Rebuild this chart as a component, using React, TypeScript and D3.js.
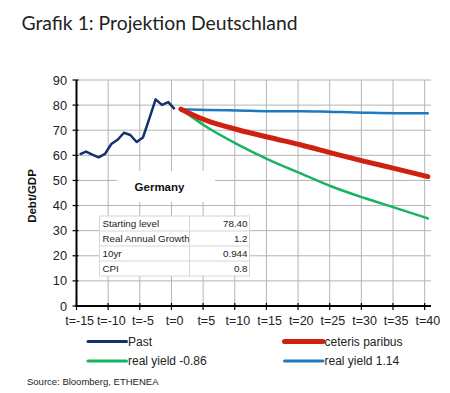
import React from 'react';
import * as d3 from 'd3';

// periods on the category axis (t=-15 .. t=40)
const periods = d3.range(-15, 41);
const labelPeriods = [-15, -10, -5, 0, 5, 10, 15, 20, 25, 30, 35, 40];
const yTicks = [0, 10, 20, 30, 40, 50, 60, 70, 80, 90];

// history
const pastT = d3.range(-15, 1);
const pastDebt = [60.4, 61.5, 60.3, 59.2, 60.6, 64.5, 66.2, 69.0, 68.1, 65.3, 67.1, 74.6, 82.3, 80.1, 81.2, 78.4];

// projections
const projT = [1, 5, 10, 15, 20, 25, 30, 35, 40];
const ceterisParibus = [78.4, 73.9, 70.2, 67.1, 64.1, 60.8, 57.6, 54.6, 51.5];
const yieldNeg = [78.4, 71.4, 64.3, 58.1, 52.7, 47.4, 43.0, 39.0, 34.9];
const yieldPos = [78.3, 78.1, 77.9, 77.6, 77.6, 77.3, 77.0, 76.8, 76.8];

// inputs table
const tableLabels = ['Starting level', 'Real Annual Growth', '10yr', 'CPI'];
const tableValues = ['78.40', '1.2', '0.944', '0.8'];

const COLORS = {
  past: '#14306e',
  ceteris: '#d0200f',
  neg: '#17b35f',
  pos: '#1b7ac4',
  grid: '#b4b4b4',
};

const legendItems = [
  { name: 'Past', color: COLORS.past, width: 3, col: 0, row: 0 },
  { name: 'ceteris paribus', color: COLORS.ceteris, width: 5, col: 1, row: 0 },
  { name: 'real yield -0.86', color: COLORS.neg, width: 3, col: 0, row: 1 },
  { name: 'real yield 1.14', color: COLORS.pos, width: 3, col: 1, row: 1 },
];

const FONT = '"Liberation Sans", Arial, sans-serif';

export default function App() {
  const width = 450;
  const height = 393;
  const plot = { left: 76.5, right: 431, top: 80, bottom: 306 };

  const x = d3
    .scaleBand<number>()
    .domain(periods)
    .range([plot.left, plot.right])
    .paddingInner(0)
    .paddingOuter(0);
  const bw = x.bandwidth();
  const cx = (t: number) => (x(t) as number) + bw / 2;
  const boundary = (t: number) => (x(t) as number);

  const y = d3.scaleLinear().domain([0, 90]).range([plot.bottom, plot.top]);

  // history drawn as straight segments, projections smoothed
  const pastLine = d3
    .line<[number, number]>()
    .x((d) => cx(d[0]))
    .y((d) => y(d[1]));
  const projLine = d3
    .line<[number, number]>()
    .x((d) => cx(d[0]))
    .y((d) => y(d[1]))
    .curve(d3.curveMonotoneX);

  const zip = (ts: number[], vs: number[]) => ts.map((t, i) => [t, vs[i]] as [number, number]);

  // table geometry
  const tbl = { x: 99.5, y: 216, w: 150, rowH: 15, split: 189.5 };

  return (
    <svg
      width={width}
      height={height}
      style={{ position: 'absolute', left: 0, top: 0, background: '#fff' }}
      fontFamily={FONT}
    >
      <rect width={width} height={height} fill="#fff" />

      {/* title */}
      <text x={21.5} y={30} fontFamily='Lato, "Open Sans", sans-serif' fontSize={19.5} fill="#222"
        textLength={276} lengthAdjust="spacingAndGlyphs">
        Grafik 1: Projektion Deutschland
      </text>

      {/* horizontal grid */}
      {yTicks.filter((v) => v > 0).map((v) => (
        <line key={'hg' + v} x1={plot.left} x2={plot.right} y1={y(v)} y2={y(v)} stroke={COLORS.grid} strokeWidth={1} />
      ))}
      {/* vertical grid */}
      {labelPeriods.filter((t) => t > -15).map((t) => (
        <line key={'vg' + t} x1={boundary(t)} x2={boundary(t)} y1={plot.top} y2={plot.bottom} stroke={COLORS.grid} strokeWidth={1} />
      ))}

      {/* Germany label box */}
      <rect x={117} y={171} width={98} height={31} fill="#fff" />
      <text x={159.5} y={190.5} textAnchor="middle" fontWeight="bold" fontSize={11.5} fill="#111">
        Germany
      </text>

      {/* inputs table */}
      <rect x={tbl.x} y={tbl.y} width={tbl.w} height={tbl.rowH * tableLabels.length} fill="#fff" stroke="#d6d6d6" />
      {tableLabels.map((lab, i) => (
        <g key={lab}>
          {i > 0 && (
            <line x1={tbl.x} x2={tbl.x + tbl.w} y1={tbl.y + i * tbl.rowH} y2={tbl.y + i * tbl.rowH} stroke="#d6d6d6" />
          )}
          <text x={tbl.x + 3} y={tbl.y + i * tbl.rowH + 11} fontSize={9.8} fill="#222">{lab}</text>
          <text x={tbl.x + tbl.w - 2} y={tbl.y + i * tbl.rowH + 11} fontSize={9.8} fill="#222" textAnchor="end">
            {tableValues[i]}
          </text>
        </g>
      ))}
      <line x1={tbl.split} x2={tbl.split} y1={tbl.y} y2={tbl.y + tbl.rowH * tableLabels.length} stroke="#d6d6d6" />

      {/* series */}
      <path d={pastLine(zip(pastT, pastDebt)) || ''} fill="none" stroke={COLORS.past} strokeWidth={2.5} strokeLinejoin="round" />
      <path d={projLine(zip(projT, yieldNeg)) || ''} fill="none" stroke={COLORS.neg} strokeWidth={2.5} strokeLinecap="round" />
      <path d={projLine(zip(projT, yieldPos)) || ''} fill="none" stroke={COLORS.pos} strokeWidth={2.5} strokeLinecap="round" />
      <path d={projLine(zip(projT, ceterisParibus)) || ''} fill="none" stroke={COLORS.ceteris} strokeWidth={5} strokeLinecap="round" />

      {/* y axis */}
      <line x1={plot.left} x2={plot.left} y1={plot.top} y2={plot.bottom} stroke="#000" strokeWidth={2} />
      {yTicks.map((v) => (
        <g key={'yt' + v}>
          <line x1={plot.left - 4} x2={plot.left + 2} y1={y(v)} y2={y(v)} stroke="#000" strokeWidth={1.2} />
          <text x={67} y={y(v)} dy="0.36em" textAnchor="end" fontSize={12.8} fill="#222">{v}</text>
        </g>
      ))}
      <text
        transform={`translate(36,196) rotate(-90)`}
        textAnchor="middle"
        fontWeight="bold"
        fontSize={11.5}
        fill="#111"
      >
        Debt/GDP
      </text>

      {/* x axis */}
      <line x1={plot.left - 1} x2={plot.right} y1={plot.bottom} y2={plot.bottom} stroke="#000" strokeWidth={2} />
      {labelPeriods.map((t) => (
        <g key={'xt' + t}>
          <line x1={boundary(t)} x2={boundary(t)} y1={plot.bottom - 3} y2={plot.bottom + 4} stroke="#000" strokeWidth={1.2} />
          <text x={cx(t)} y={325} textAnchor="middle" fontSize={12.5} fill="#222">{`t=${t}`}</text>
        </g>
      ))}

      {/* legend */}
      {legendItems.map((d) => {
        const lx = d.col === 0 ? 88 : 284.5;
        const ly = d.row === 0 ? 341.5 : 361;
        return (
          <g key={d.name}>
            <line x1={lx} x2={lx + 38.5} y1={ly} y2={ly} stroke={d.color} strokeWidth={d.width} strokeLinecap="round" />
            <text x={lx + 40} y={ly} dy="0.36em" fontSize={12} fill="#222">{d.name}</text>
          </g>
        );
      })}

      {/* source */}
      <text x={27} y={384.5} fontSize={9.5} fill="#222">Source: Bloomberg, ETHENEA</text>
    </svg>
  );
}
